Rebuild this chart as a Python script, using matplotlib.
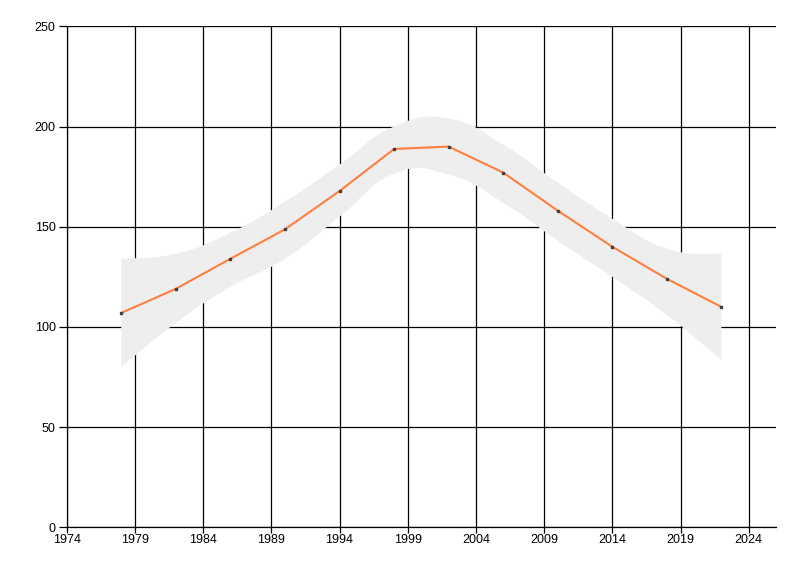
import matplotlib
matplotlib.use("Agg")
import matplotlib.pyplot as plt
from matplotlib.path import Path
from matplotlib.patches import PathPatch
import numpy as np

years = [1978, 1982, 1986, 1990, 1994, 1998, 2002, 2006, 2010, 2014, 2018, 2022]
values = [107, 119, 134, 148.7, 167.8, 188.8, 190, 177, 158, 140, 124, 110]
upper = [134, 136.5, 147, 162.5, 181, 200, 204, 191, 172, 154, 139, 136.5]
lower = [80, 102, 120, 134, 155, 176.5, 176, 162, 143, 125, 106, 83.5]

x_ticks = [1974, 1979, 1984, 1989, 1994, 1999, 2004, 2009, 2014, 2019, 2024]
y_ticks = [0, 50, 100, 150, 200, 250]


def spline_segments(pts, tension=0.7):
    # cardinal spline as cubic bezier pieces (like the .NET spline range)
    pts = np.asarray(pts, float)
    n = len(pts)
    verts, codes = [], []
    for i in range(n - 1):
        p0 = pts[max(i - 1, 0)]
        p1 = pts[i]
        p2 = pts[i + 1]
        p3 = pts[min(i + 2, n - 1)]
        c1 = p1 + tension / 3 * (p2 - p0)
        c2 = p2 - tension / 3 * (p3 - p1)
        verts += [c1, c2, p2]
        codes += [Path.CURVE4] * 3
    return verts, codes


plt.rcParams['font.family'] = ['Liberation Sans', 'DejaVu Sans']

fig = plt.figure(figsize=(8, 5.76), dpi=100)
ax = fig.add_axes([0.0834, 0.0845, 0.8866, 0.8698])

ax.set_xlim(1974, 2026)
ax.set_ylim(0, 250)

# band shape: spline worked out in pixel-like units so it bends like the original
sx, sy = 13.63, 2.004
up = np.column_stack([np.array(years) * sx, np.array(upper) * sy])
lo = np.column_stack([np.array(years) * sx, np.array(lower) * sy])[::-1]
v1, c1 = spline_segments(up)
v2, c2 = spline_segments(lo)
verts = [up[0]] + v1 + [lo[0]] + v2 + [up[0]]
codes = [Path.MOVETO] + c1 + [Path.LINETO] + c2 + [Path.CLOSEPOLY]
verts = np.array(verts) / np.array([sx, sy])
band = PathPatch(Path(verts, codes), facecolor='#eeeeee', edgecolor='none', zorder=1)
ax.add_patch(band)

ax.plot(years, values, color='#ff7f3f', lw=1.5, zorder=3)
ax.plot(years, values, ls='none', marker='s', ms=1.8, color='#404040', zorder=4)

ax.set_xticks(x_ticks)
ax.set_yticks(y_ticks)
ax.grid(True, color='black', lw=0.9)
ax.set_axisbelow(True)

for s in ['top', 'right']:
    ax.spines[s].set_visible(False)
for s in ['left', 'bottom']:
    ax.spines[s].set_linewidth(0.9)

ax.tick_params(axis='y', length=6, width=0.9, pad=2, labelsize=9)
ax.tick_params(axis='x', length=4, width=0.9, pad=1, labelsize=9)

fig.savefig("out.png", dpi=100)
